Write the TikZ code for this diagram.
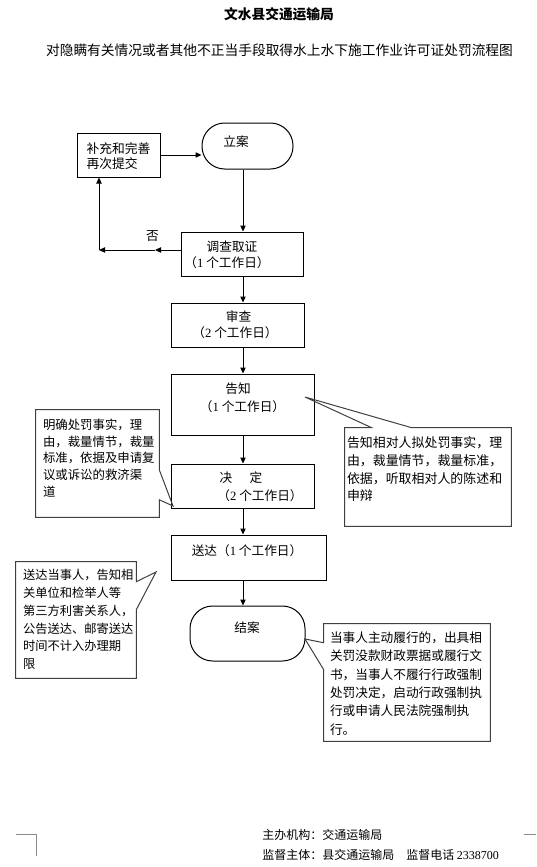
\documentclass[tikz,border=0pt]{standalone}
\usepackage{fontspec}
\setmainfont{Noto Sans CJK SC}
\newfontfamily\numfont{Liberation Serif}
\usetikzlibrary{arrows.meta,calc,fit,positioning}

\tikzset{
	proc/.style={draw, line width=0.75pt, inner sep=0pt},
	term/.style={proc, rounded corners=17pt},
	note/.style={inner sep=0pt},
	noteline/.style={draw=black!75, line width=0.75pt},
	txt/.style={inner sep=0pt, align=center, font=\fontsize{9.5pt}{12.75pt}\selectfont},
	flow/.style={-{Triangle[length=4.5pt,width=4pt]}, line width=0.75pt}
}

\begin{document}
\begin{tikzpicture}[x=0.75pt, y=-0.75pt]
\useasboundingbox (0,0) rectangle (536,867);
\coordinate (spine) at (243,0);
\coordinate (nomid) at (155,250);
\coordinate (nocorner) at (99,250);

% titles
\node[txt, font=\fontsize{10.3pt}{12pt}\selectfont\bfseries] (title) at (279,14) {文水县交通运输局};
\node[txt, font=\fontsize{10.3pt}{12pt}\selectfont] (subtitle) at (279.5,50) {对隐瞒有关情况或者其他不正当手段取得水上水下施工作业许可证处罚流程图};

% process boxes
\node[proc, fit={(77,133) (160,177)}] (buchong) {};
\node[txt, align=left, font=\fontsize{9.6pt}{11.25pt}\selectfont] at (118.5,156.5) {补充和完善\\再次提交};
\node[term, fit={(202,123) (293,169)}] (lian) {};
\node[txt] at (236,142) {立案};
\node[proc, fit={(181,232) (303,276)}] (diaocha) {};
\node[txt] at (232,247) {调查取证};
\node[txt] at (227,263) {（{\numfont 1} 个工作日）};
\node[proc, fit={(171,303) (304,347)}] (shencha) {};
\node[txt] at (238.5,317) {审查};
\node[txt] at (235,333) {（{\numfont 2} 个工作日）};
\node[proc, fit={(171,374) (314,435)}] (gaozhi) {};
\node[txt] at (238,389) {告知};
\node[txt] at (242.5,407) {（{\numfont 1} 个工作日）};
\node[proc, fit={(171,464) (314,508)}] (jueding) {};
\node[txt] at (241,478) {决\hspace{13pt}定};
\node[txt] at (260,496) {（{\numfont 2} 个工作日）};
\node[proc, fit={(171,535) (326,580)}] (songda) {};
\node[txt] at (247,551) {送达（{\numfont 1} 个工作日）};
\node[term, fit={(190,606) (305,661)}] (jiean) {};
\node[txt] at (247,628) {结案};

% callouts
\coordinate (lc1tip) at (173,506);
\coordinate (rc1tip) at (305,397);
\coordinate (lc2tip) at (156,572);
\coordinate (rc2tip) at (305,639);
\node[note, fit={(36,410) (159,517)}] (lc1) {};
\draw[noteline] (lc1.north west) -- (lc1.north east) -- ($(lc1.north east)+(0,60)$) -- (lc1tip) -- ($(lc1.north east)+(0,90)$) -- (lc1.south east) -- (lc1.south west) -- cycle;
\node[txt, align=left, anchor=north west, font=\fontsize{9.3pt}{12.5pt}\selectfont] at ($(lc1.north west)+(7,9)$) {明确处罚事实，理\\由，裁量情节，裁量\\标准，依据及申请复\\议或诉讼的救济渠\\道};
\node[note, fit={(345,428) (511,526)}] (rc1) {};
\draw[noteline] (rc1.north west) -- ($(rc1.north west)+(27,0)$) -- (rc1tip) -- ($(rc1.north west)+(67,0)$) -- (rc1.north east) -- (rc1.south east) -- (rc1.south west) -- cycle;
\node[txt, align=left, anchor=north west, font=\fontsize{9.7pt}{13.2pt}\selectfont] at ($(rc1.north west)+(2,9)$) {告知相对人拟处罚事实，理\\由，裁量情节，裁量标准，\\依据，听取相对人的陈述和\\申辩};
\node[note, fit={(16,562) (136,678)}] (lc2) {};
\draw[noteline] (lc2.north west) -- (lc2.north east) -- ($(lc2.north east)+(0,20)$) -- (lc2tip) -- ($(lc2.north east)+(0,48)$) -- (lc2.south east) -- (lc2.south west) -- cycle;
\node[txt, align=left, anchor=north west, font=\fontsize{9.2pt}{13.3pt}\selectfont] at ($(lc2.north west)+(7,7.6)$) {送达当事人，告知相\\关单位和检举人等\\第三方利害关系人，\\公告送达、邮寄送达\\时间不计入办理期\\限};
\node[note, fit={(324,624) (490,741)}] (rc2) {};
\draw[noteline] (rc2.north west) -- (rc2.north east) -- (rc2.south east) -- (rc2.south west) -- ($(rc2.north west)+(0,46)$) -- (rc2tip) -- ($(rc2.north west)+(0,19)$) -- cycle;
\node[txt, align=left, anchor=north west, font=\fontsize{9.5pt}{13.7pt}\selectfont] at ($(rc2.north west)+(6,8)$) {当事人主动履行的，出具相\\关罚没款财政票据或履行文\\书，当事人不履行行政强制\\处罚决定，启动行政强制执\\行或申请人民法院强制执\\行。};

\begin{scope}[every path/.style={flow, draw}]
	\draw (buchong.east) -- (buchong.east -| lian.west);
	\draw (lian.south -| spine) -- (diaocha.north -| spine);
	\draw (diaocha.west |- nomid) -- (nomid);
	\draw (nomid) -- (nocorner);
	\draw (nocorner) -- (nocorner |- buchong.south);
	\draw (diaocha.south -| spine) -- (shencha.north -| spine);
	\draw (shencha.south -| spine) -- (gaozhi.north -| spine);
	\draw (gaozhi.south -| spine) -- (jueding.north -| spine);
	\draw (jueding.south -| spine) -- (songda.north -| spine);
	\draw (songda.south -| spine) -- (jiean.north -| spine);
\end{scope}
\node[txt, above=6.5pt of nomid, xshift=-2pt] (no) {否};

% footer
\node[txt, anchor=west, font=\fontsize{9pt}{11pt}\selectfont] (host) at (262,835) {主办机构：交通运输局};
\node[txt, anchor=west, font=\fontsize{9pt}{11pt}\selectfont] (super) at (262,855) {监督主体：县交通运输局　监督电话 {\numfont 2338700}};
\draw[black!45, line width=0.75pt] (16,834) -- (36,834) -- (36,856);
\draw[black!45, line width=0.75pt] (524,834) -- (536,834);
\end{tikzpicture}
\end{document}
